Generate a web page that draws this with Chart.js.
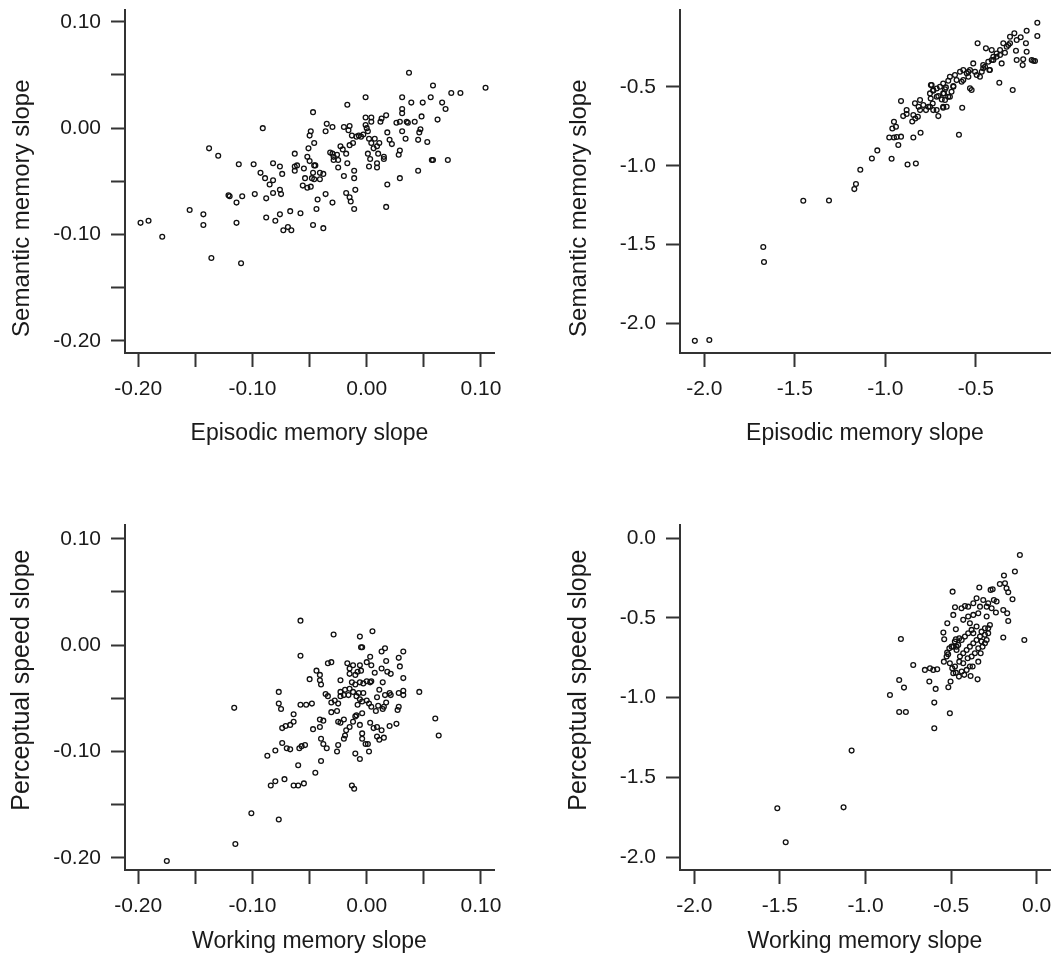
<!DOCTYPE html>
<html>
<head>
<meta charset="utf-8">
<title>Memory slopes</title>
<script src="https://cdn.jsdelivr.net/npm/chart.js@4.4.1/dist/chart.umd.min.js"></script>
<style>
  body { margin: 0; background: #fff; width: 1064px; height: 957px; position: relative; overflow: hidden; }
  canvas { position: absolute; }
</style>
</head>
<body>
<canvas id="chartA" width="504" height="451" style="left:0;top:0"></canvas>
<canvas id="chartB" width="505" height="451" style="left:555px;top:0"></canvas>
<canvas id="chartC" width="504" height="442" style="left:0;top:515px"></canvas>
<canvas id="chartD" width="505" height="442" style="left:555px;top:515px"></canvas>
<script>
// Panel A: episodic vs semantic (small scale)
const episodicA = [-0.198,-0.191,-0.179,-0.155,-0.143,-0.143,-0.136,-0.110,-0.114,-0.114,
  -0.121,-0.120,-0.109,-0.098,-0.088,-0.138,-0.130,-0.112,-0.099,-0.091,
  -0.093,-0.089,-0.085,-0.082,-0.082,-0.076,-0.075,-0.088,-0.080,-0.076,
  -0.073,-0.069,-0.066,-0.067,-0.058,-0.047,-0.038,-0.044,-0.043,-0.036,
  -0.030,-0.056,-0.052,-0.049,-0.047,-0.082,-0.076,-0.074,-0.063,-0.063,
  -0.063,-0.061,-0.055,-0.052,-0.051,-0.050,-0.049,-0.050,-0.046,-0.045,
  -0.047,-0.048,-0.046,-0.041,-0.041,-0.038,-0.035,-0.036,-0.030,-0.030,
  -0.029,-0.032,-0.029,-0.025,-0.025,-0.023,-0.021,-0.020,-0.018,-0.017,
  -0.017,-0.020,-0.015,-0.016,-0.013,-0.015,-0.012,-0.011,-0.011,-0.010,
  -0.018,-0.015,-0.014,-0.011,-0.007,-0.005,-0.003,-0.001,-0.001,0.000,
  0.001,0.002,0.001,0.003,0.002,0.004,0.004,0.004,0.007,0.009,
  0.009,0.009,0.010,0.011,0.012,0.013,0.015,0.015,0.018,0.017,
  0.020,0.022,0.018,0.017,0.028,0.029,0.029,0.031,0.031,0.031,
  0.031,0.035,0.036,0.034,0.037,0.039,0.042,0.045,0.045,0.047,
  0.046,0.048,0.049,0.053,0.056,0.058,0.057,0.058,0.062,0.066,
  0.069,0.071,0.074,0.082,0.104,0.026,0.029,0.006,-0.009,-0.001,
  -0.026,-0.046,-0.054];
const semanticA = [-0.089,-0.087,-0.102,-0.077,-0.081,-0.091,-0.122,-0.127,-0.089,-0.070,
  -0.063,-0.064,-0.064,-0.062,-0.066,-0.019,-0.026,-0.034,-0.034,0.000,
  -0.042,-0.047,-0.053,-0.049,-0.061,-0.058,-0.062,-0.084,-0.087,-0.081,
  -0.096,-0.093,-0.096,-0.078,-0.080,-0.091,-0.094,-0.076,-0.067,-0.062,
  -0.070,-0.054,-0.056,-0.055,0.015,-0.033,-0.036,-0.043,-0.024,-0.036,
  -0.040,-0.035,-0.038,-0.027,-0.019,-0.031,-0.003,-0.007,-0.014,-0.035,
  -0.042,-0.047,-0.048,-0.048,-0.042,-0.043,0.004,-0.003,0.001,-0.024,
  -0.027,-0.023,-0.030,-0.030,-0.037,-0.017,-0.020,-0.045,-0.024,-0.033,
  0.022,0.001,0.002,-0.002,-0.007,-0.016,-0.014,-0.040,-0.047,-0.058,
  -0.061,-0.065,-0.069,-0.076,-0.007,-0.008,-0.006,0.029,0.010,0.000,
  -0.003,-0.010,-0.024,-0.029,-0.036,0.010,0.006,-0.014,-0.010,-0.017,
  -0.033,-0.037,-0.024,-0.014,0.006,0.009,-0.027,-0.029,-0.004,0.012,
  -0.011,-0.015,-0.053,-0.074,-0.025,-0.021,-0.047,-0.003,0.018,0.014,
  0.029,0.006,0.005,-0.010,0.052,0.024,0.006,-0.011,-0.040,-0.001,
  -0.004,0.011,0.024,-0.013,0.029,0.040,-0.030,-0.030,0.008,0.024,
  0.018,-0.030,0.033,0.033,0.038,0.005,0.006,-0.019,-0.008,0.003,
  -0.025,-0.035,-0.047];

// Panel B: episodic vs semantic (large scale)
const episodicB = [-2.052,-1.972,-1.674,-1.670,-1.453,-1.311,-1.171,-1.162,-1.138,-1.074,
  -1.044,-0.965,-0.978,-0.952,-0.937,-0.913,-0.961,-0.941,-0.952,-0.928,
  -0.913,
  -0.901,-0.882,-0.877,-0.831,-0.845,-0.805,-0.851,-0.834,-0.820,-0.816,
  -0.790,-0.775,-0.762,-0.738,-0.749,-0.735,-0.748,-0.735,-0.716,-0.707,
  -0.680,-0.676,-0.665,-0.652,-0.634,-0.593,-0.575,
  -0.160,-0.219,-0.160,-0.287,-0.311,-0.274,-0.252,-0.223,-0.219,-0.278,
  -0.274,-0.241,-0.182,-0.173,-0.296,-0.370,-0.490,-0.444,-0.412,-0.385,
  -0.366,-0.348,-0.329,-0.311,-0.357,-0.403,-0.431,-0.459,-0.467,-0.422,
  -0.477,-0.514,-0.532,-0.550,-0.587,-0.606,-0.643,-0.624,-0.569,-0.532,
  -0.523,-0.680,-0.698,-0.735,-0.744,-0.753,-0.716,-0.680,-0.670,-0.643,
  -0.808,-0.836,-0.882,-0.845,-0.808,-0.753,-0.716,-0.680,
  -0.495,-0.459,-0.425,-0.403,-0.385,-0.339,-0.320,-0.541,-0.569,-0.615,
  -0.652,-0.688,-0.661,-0.238,-0.191,
  -0.707,-0.670,-0.624,-0.578,-0.541,-0.504,-0.449,-0.412,-0.366];
const semanticB = [-2.109,-2.104,-1.515,-1.610,-1.222,-1.220,-1.148,-1.116,-1.026,-0.954,
  -0.903,-0.956,-0.821,-0.821,-0.818,-0.816,-0.764,-0.753,-0.722,-0.869,
  -0.591,
  -0.686,-0.673,-0.992,-0.986,-0.821,-0.791,-0.720,-0.701,-0.690,-0.627,
  -0.616,-0.648,-0.627,-0.606,-0.574,-0.648,-0.489,-0.525,-0.511,-0.686,
  -0.633,-0.542,-0.504,-0.563,-0.532,-0.804,-0.633,
  -0.095,-0.145,-0.179,-0.162,-0.183,-0.204,-0.187,-0.225,-0.278,-0.272,
  -0.331,-0.363,-0.335,-0.337,-0.521,-0.475,-0.225,-0.257,-0.268,-0.289,
  -0.268,-0.225,-0.247,-0.225,-0.352,-0.310,-0.342,-0.363,-0.405,-0.394,
  -0.437,-0.352,-0.394,-0.415,-0.405,-0.458,-0.437,-0.500,-0.458,-0.510,
  -0.521,-0.479,-0.500,-0.521,-0.489,-0.542,-0.563,-0.542,-0.584,-0.563,
  -0.584,-0.605,-0.648,-0.679,-0.648,-0.627,-0.648,-0.627,
  -0.426,-0.383,-0.394,-0.331,-0.310,-0.285,-0.236,-0.405,-0.394,-0.426,
  -0.462,-0.580,-0.627,-0.326,-0.331,
  -0.559,-0.516,-0.496,-0.468,-0.437,-0.405,-0.373,-0.331,-0.299];

// Panel C: working vs perceptual speed (small scale)
const workingC = [-0.116,-0.101,-0.077,-0.087,-0.084,-0.080,-0.072,-0.064,-0.060,-0.055,
  -0.060,-0.045,-0.040,-0.077,-0.077,-0.075,-0.058,-0.053,-0.048,-0.058,
  -0.058,-0.029,-0.006,0.005,-0.005,-0.004,-0.050,-0.044,-0.041,-0.041,
  -0.040,-0.034,-0.031,-0.023,-0.064,-0.064,-0.074,-0.071,-0.067,-0.074,
  -0.070,-0.067,-0.080,-0.059,-0.057,-0.054,-0.047,-0.041,-0.041,-0.038,
  -0.040,-0.038,-0.035,-0.036,-0.034,-0.031,-0.028,-0.025,-0.023,-0.020,
  -0.031,-0.026,-0.026,-0.025,-0.020,-0.019,-0.025,-0.023,-0.020,-0.018,
  -0.015,-0.012,-0.010,-0.010,-0.006,-0.013,-0.011,-0.006,-0.004,-0.004,
  -0.001,0.001,0.002,-0.023,-0.019,-0.016,-0.015,-0.012,-0.009,-0.007,
  -0.006,-0.003,0.000,-0.017,-0.015,-0.015,-0.012,-0.010,-0.008,-0.005,
  -0.006,-0.013,-0.010,-0.006,-0.003,0.000,0.003,0.004,0.000,0.003,
  0.004,0.007,0.013,0.016,0.017,0.013,0.018,0.021,0.014,0.011,
  0.016,0.009,0.010,0.008,0.020,0.021,0.028,0.032,0.032,0.028,
  0.027,0.032,0.028,0.029,0.032,0.046,0.014,0.017,0.015,0.003,
  0.006,0.009,0.013,0.009,0.011,0.015,0.020,0.026,0.060,0.063,
  -0.004,-0.008,0.002,0.004,-0.004,-0.009,-0.115,-0.175];
const speedC = [-0.059,-0.158,-0.164,-0.104,-0.132,-0.128,-0.126,-0.132,-0.132,-0.130,
  -0.113,-0.120,-0.109,-0.044,-0.055,-0.060,-0.056,-0.056,-0.055,0.023,
  -0.010,0.010,0.008,0.013,-0.002,-0.002,-0.032,-0.024,-0.028,-0.033,
  -0.037,-0.017,-0.016,-0.033,-0.065,-0.072,-0.078,-0.076,-0.075,-0.092,
  -0.097,-0.098,-0.099,-0.097,-0.095,-0.094,-0.079,-0.077,-0.070,-0.071,
  -0.088,-0.093,-0.097,-0.046,-0.048,-0.054,-0.052,-0.055,-0.048,-0.047,
  -0.063,-0.062,-0.100,-0.094,-0.088,-0.085,-0.072,-0.073,-0.070,-0.080,
  -0.077,-0.072,-0.067,-0.102,-0.107,-0.132,-0.135,-0.075,-0.083,-0.088,
  -0.093,-0.093,-0.100,-0.044,-0.042,-0.047,-0.041,-0.044,-0.048,-0.045,
  -0.051,-0.045,-0.052,-0.017,-0.022,-0.027,-0.019,-0.028,-0.025,-0.024,
  -0.019,-0.035,-0.037,-0.035,-0.036,-0.034,-0.035,-0.034,-0.016,-0.011,
  -0.019,-0.026,-0.006,-0.003,-0.015,-0.022,-0.025,-0.027,-0.035,-0.042,
  -0.047,-0.049,-0.057,-0.062,-0.045,-0.047,-0.045,-0.047,-0.043,-0.058,
  -0.061,-0.031,-0.012,-0.020,-0.006,-0.044,-0.060,-0.054,-0.058,-0.073,
  -0.078,-0.077,-0.080,-0.086,-0.089,-0.087,-0.076,-0.074,-0.069,-0.085,
  -0.053,-0.056,-0.055,-0.058,-0.064,-0.066,-0.187,-0.203];

// Panel D: working vs perceptual speed (large scale)
const workingD = [-0.098,-0.127,-0.191,-0.185,-0.215,-0.176,-0.166,-0.141,-0.195,-0.172,
  -0.166,-0.195,-0.072,-0.269,-0.257,-0.335,-0.491,-0.250,-0.234,-0.283,
  -0.312,-0.292,-0.263,-0.238,-0.351,-0.370,-0.400,-0.419,-0.439,-0.477,
  -0.331,-0.487,-0.522,-0.472,-0.429,-0.400,-0.370,-0.341,-0.292,-0.273,
  -0.302,-0.283,-0.322,-0.351,-0.370,-0.390,-0.545,-0.540,-0.523,-0.517,
  -0.497,-0.478,-0.468,-0.793,-0.721,-0.653,-0.623,-0.604,-0.581,-0.803,
  -0.775,-0.857,-0.803,-0.764,-0.627,-0.590,-0.598,-0.598,-0.516,-0.503,
  -0.507,-1.081,-1.515,-1.128,-1.466,
  -0.542,-0.526,-0.507,-0.493,-0.487,-0.472,-0.454,-0.438,-0.423,-0.409,
  -0.390,-0.374,-0.341,-0.386,-0.345,-0.327,-0.316,-0.302,-0.292,-0.448,
  -0.429,-0.409,-0.390,-0.370,-0.351,-0.331,-0.468,-0.458,-0.438,-0.419,
  -0.400,-0.380,-0.472,-0.452,-0.510,-0.487,-0.477,-0.452,-0.429,-0.403,
  -0.380,-0.361,-0.341,-0.322,-0.302,-0.283];
const speedD = [-0.105,-0.209,-0.234,-0.282,-0.287,-0.314,-0.339,-0.383,-0.450,-0.471,
  -0.519,-0.623,-0.638,-0.324,-0.320,-0.309,-0.335,-0.387,-0.397,-0.408,
  -0.387,-0.429,-0.439,-0.466,-0.376,-0.408,-0.429,-0.425,-0.439,-0.433,
  -0.429,-0.481,-0.533,-0.571,-0.512,-0.491,-0.481,-0.471,-0.491,-0.544,
  -0.565,-0.596,-0.586,-0.554,-0.596,-0.533,-0.592,-0.634,-0.717,-0.728,
  -0.680,-0.648,-0.680,-0.632,-0.795,-0.826,-0.816,-0.826,-0.822,-0.889,
  -0.937,-0.983,-1.090,-1.090,-0.899,-0.945,-1.031,-1.192,-0.935,-0.899,
  -1.098,-1.332,-1.694,-1.688,-1.907,
  -0.774,-0.742,-0.784,-0.816,-0.847,-0.843,-0.868,-0.836,-0.857,-0.826,
  -0.805,-0.805,-0.774,-0.864,-0.885,-0.721,-0.680,-0.659,-0.638,-0.742,
  -0.721,-0.701,-0.680,-0.659,-0.638,-0.617,-0.701,-0.669,-0.638,-0.617,
  -0.596,-0.575,-0.634,-0.627,-0.690,-0.680,-0.805,-0.774,-0.784,-0.753,
  -0.742,-0.721,-0.690,-0.648,-0.606,-0.565];

// tick values and labels
const smallTicks = [-0.20, -0.15, -0.10, -0.05, 0.00, 0.05, 0.10];
const smallTickLabels = ['-0.20', '', '-0.10', '', '0.00', '', '0.10'];
const largeTicksB = [-2.0, -1.5, -1.0, -0.5];
const largeTickLabelsB = ['-2.0', '-1.5', '-1.0', '-0.5'];
const largeTicksD = [-2.0, -1.5, -1.0, -0.5, 0.0];
const largeTickLabelsD = ['-2.0', '-1.5', '-1.0', '-0.5', '0.0'];

const FONT = '"Liberation Sans", Arial, Helvetica, sans-serif';
const INK = '#1a1a1a';
// the y titles are not centred on the plot in the original, nudge them with spaces
const pushDown = '\u00a0'.repeat(8);
const pushUp = '\u00a0'.repeat(5);

function makeAxis(dir, o) {
    return {
        type: 'linear',
        min: o.min,
        max: o.max,
        afterBuildTicks: (scale) => {
            scale.ticks = o.ticks.map(v => ({ value: v }));
        },
        afterFit: (scale) => {
            if (dir === 'x') scale.height = o.size;
            else scale.width = o.size;
            // keep the plot box exactly where it is, labels may hang over
            scale.paddingTop = scale.paddingBottom = 0;
            scale.paddingLeft = scale.paddingRight = 0;
        },
        border: { display: true, color: '#333', width: 2 },
        grid: { drawOnChartArea: false, drawTicks: true, tickLength: 14, tickColor: '#333', tickWidth: 2 },
        ticks: {
            autoSkip: false,
            maxRotation: 0,
            padding: dir === 'x' ? 9.5 : 10,
            color: INK,
            font: { family: FONT, size: 21 },
            callback: (v, i) => o.labels[i]
        },
        title: {
            display: true,
            text: o.title,
            color: INK,
            font: { family: FONT, size: o.titleSize || 23 },
            padding: dir === 'x' ? { top: 0, bottom: o.titlePad } : { top: o.titlePad, bottom: 0 }
        }
    };
}

function makeChart(id, xs, ys, xAxis, yAxis) {
    const points = xs.map((x, i) => ({ x: x, y: ys[i] }));
    return new Chart(document.getElementById(id), {
        type: 'scatter',
        data: {
            datasets: [{
                data: points,
                pointStyle: 'circle',
                pointRadius: 2.4,
                pointBorderWidth: 1.3,
                pointBorderColor: '#111',
                pointBackgroundColor: 'rgba(0,0,0,0)'
            }]
        },
        options: {
            responsive: false,
            animation: false,
            layout: { padding: { top: 10, right: 10, bottom: 0, left: 0 } },
            plugins: { legend: { display: false }, tooltip: { enabled: false } },
            scales: { x: makeAxis('x', xAxis), y: makeAxis('y', yAxis) }
        }
    });
}

makeChart('chartA', episodicA, semanticA,
    { min: -0.2116, max: 0.1114, ticks: smallTicks, labels: smallTickLabels, title: 'Episodic memory slope', size: 98, titlePad: 3.5 },
    { min: -0.2113, max: 0.111, ticks: smallTicks, labels: smallTickLabels, title: 'Semantic memory slope' + pushDown, size: 125, titlePad: 7.8, titleSize: 24 });

makeChart('chartB', episodicB, semanticB,
    { min: -2.134, max: -0.090, ticks: largeTicksB, labels: largeTickLabelsB, title: 'Episodic memory slope', size: 98, titlePad: 3.5 },
    { min: -2.186, max: -0.014, ticks: largeTicksB, labels: largeTickLabelsB, title: 'Semantic memory slope' + pushDown, size: 125, titlePad: 9.5, titleSize: 24 });

makeChart('chartC', workingC, speedC,
    { min: -0.2116, max: 0.1114, ticks: smallTicks, labels: smallTickLabels, title: 'Working memory slope', size: 87, titlePad: 1.2 },
    { min: -0.2114, max: 0.1129, ticks: smallTicks, labels: smallTickLabels, title: pushUp + 'Perceptual speed slope', size: 125, titlePad: 7.5, titleSize: 25 });

makeChart('chartD', workingD, speedD,
    { min: -2.0835, max: 0.078, ticks: largeTicksD, labels: largeTickLabelsD, title: 'Working memory slope', size: 87, titlePad: 1.2 },
    { min: -2.081, max: 0.083, ticks: largeTicksD, labels: largeTickLabelsD, title: pushUp + 'Perceptual speed slope', size: 125, titlePad: 9.2, titleSize: 25 });
</script>
</body>
</html>
